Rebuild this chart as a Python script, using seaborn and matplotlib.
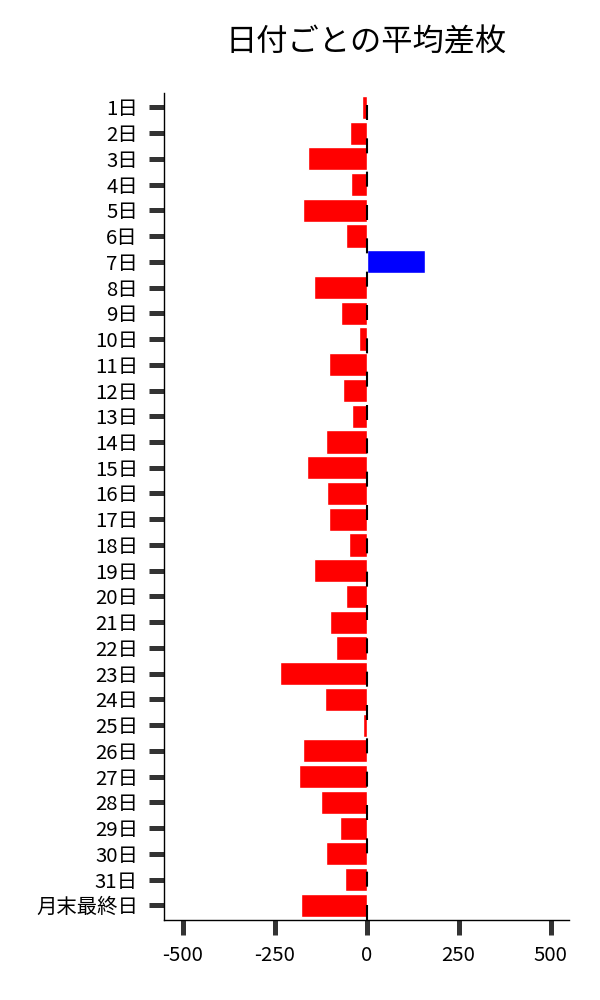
import matplotlib
matplotlib.use("Agg")
import matplotlib.pyplot as plt
import seaborn as sns
import pandas as pd

days = [f"{i}日" for i in range(1, 32)] + ["月末最終日"]
values = [-13, -45, -160, -43, -173, -56, 160, -143, -70, -21,
          -102, -64, -40, -111, -162, -108, -102, -48, -143, -56,
          -100, -83, -236, -113, -10, -173, -184, -124, -73, -111,
          -59, -179]
title = "日付ごとの平均差枚"
xticks = [-500, -250, 0, 250, 500]

sns.set_style("white")
plt.rcParams['font.family'] = ['Noto Sans CJK JP', 'DejaVu Sans']

df = pd.DataFrame({"day": days, "value": values})
df["sign"] = ["pos" if v > 0 else "neg" for v in values]

fig = plt.figure(figsize=(6, 10), dpi=100)
ax = fig.add_axes([0.2738, 0.08, 0.9483 - 0.2738, 0.9073 - 0.08])

sns.barplot(data=df, x="value", y="day", hue="sign",
            palette={"neg": "#ff0000", "pos": "#0000ff"},
            dodge=False, legend=False, width=0.9, saturation=1,
            orient="h", ax=ax, zorder=2)

ax.axvline(0, color="black", lw=1.5, ls=(0, (7.2, 8.8)), zorder=3)

ax.set_xlim(-550, 550)
ax.set_ylim(len(days) - 0.43, -0.57)
ax.set_xticks(xticks)
ax.set_xticklabels([str(t) for t in xticks])
ax.set_xlabel("")
ax.set_ylabel("")

for s in ["top", "right"]:
    ax.spines[s].set_visible(False)
for s in ["left", "bottom"]:
    ax.spines[s].set_color("black")
    ax.spines[s].set_linewidth(1.0)

ax.tick_params(axis="x", which="major", bottom=True, length=11, width=3.6,
               color="#333333", labelsize=14.7, labelcolor="black", pad=7)
ax.tick_params(axis="y", which="major", left=True, length=11, width=3.6,
               color="#333333", labelsize=14.7, labelcolor="black", pad=8)

fig.text(0.611, 0.958, title, ha="center", va="center", fontsize=22.5,
         color="black")

fig.savefig("out.png", dpi=100)
